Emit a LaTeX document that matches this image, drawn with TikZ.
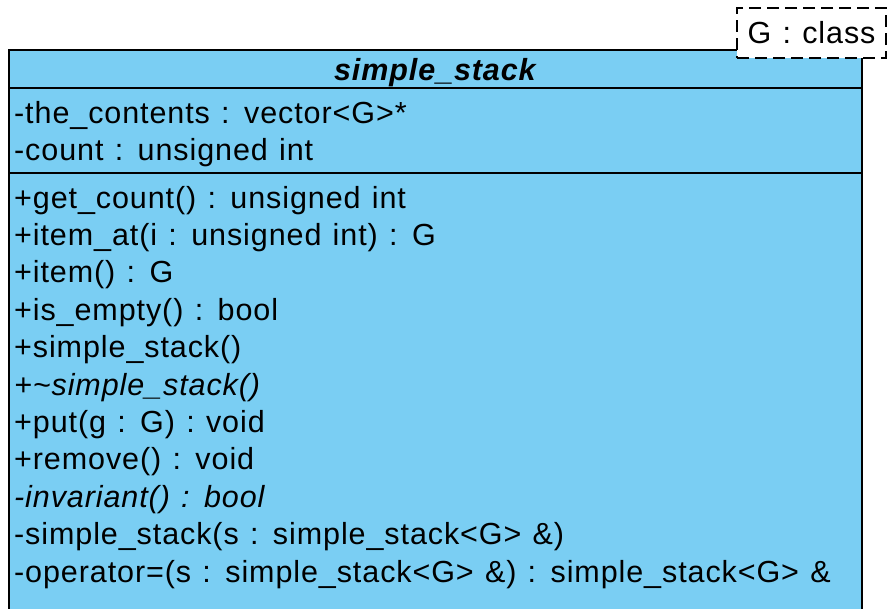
\documentclass[tikz,border=0pt]{standalone}
\usepackage{fontspec}
\setmainfont[WordSpace=1.2,LetterSpace=3]{Liberation Sans}
\definecolor{classblue}{RGB}{122,206,243}

\tikzset{
  member/.style={anchor=base west, inner sep=0pt, font=\fontsize{30.5}{36}\selectfont},
  classbox/.style={draw=black, line width=2pt, fill=classblue},
  tmplbox/.style={draw=black, line width=2pt, dashed, dash pattern=on 12pt off 6pt, fill=white,
                  minimum width=149pt, minimum height=50pt, inner sep=0pt,
                  font=\fontsize{30.5}{36}\selectfont}
}

\begin{document}
\begin{tikzpicture}[x=1pt,y=-1pt]
            \useasboundingbox (0,0) rectangle (890,608);
            \clip (0,0) rectangle (890,608);
            % class box
            \coordinate (nw) at (9,50);
            \coordinate (se) at (862,640);
            \draw[classbox] (nw) rectangle (se);
            \draw[line width=2pt] (9,88) -- (862,88);
            \draw[line width=2pt] (9,173) -- (862,173);
            \node[member, anchor=base] (title) at (436,80) {\textbf{\textit{simple\_stack}}};
            % attributes
            \node[member] (a1) at (14,123) {-the\_contents : vector<G>*};
            \node[member] (a2) at (14,160.4) {-count : unsigned int};
            % operations
            \node[member] (m1) at (14,208) {+get\_count() : unsigned int};
            \node[member] (m2) at (14,245.4) {+item\_at(i : unsigned int) : G};
            \node[member] (m3) at (14,282.8) {+item() : G};
            \node[member] (m4) at (14,320.2) {+is\_empty() : bool};
            \node[member] (m5) at (14,357.6) {+simple\_stack()};
            \node[member] (m6) at (14,395) {\textit{+\textasciitilde simple\_stack()}};
            \node[member] (m7) at (14,432.4) {+put(g : G) : void};
            \node[member] (m8) at (14,469.8) {+remove() : void};
            \node[member] (m9) at (14,507.2) {\textit{-invariant() : bool}};
            \node[member] (m10) at (14,544.6) {-simple\_stack(s : simple\_stack<G> \&)};
            \node[member] (m11) at (14,582) {-operator=(s : simple\_stack<G> \&) : simple\_stack<G> \&};
            % template parameter
            \node[tmplbox] (tmpl) at (811.5,33) {G : class};
        \end{tikzpicture}
\end{document}
